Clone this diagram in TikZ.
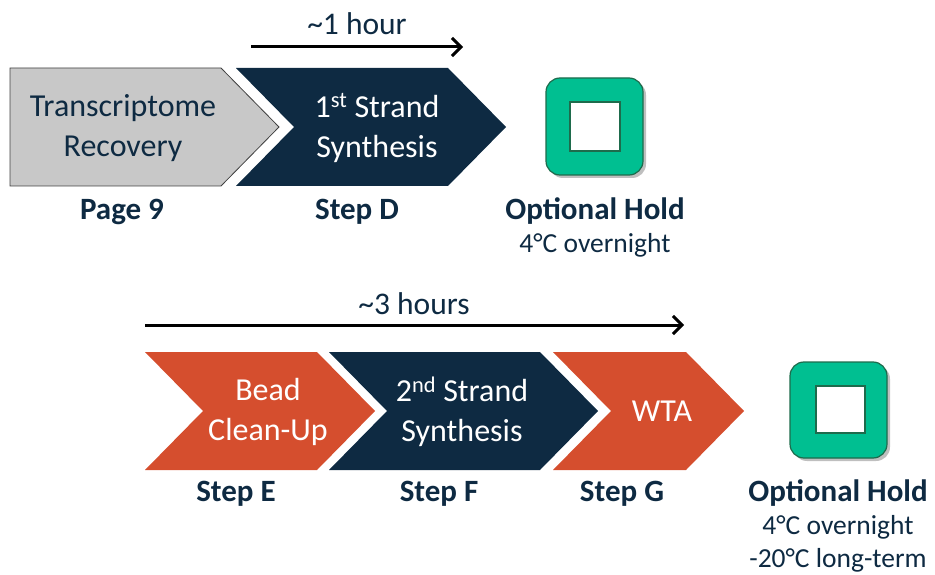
\documentclass[tikz,border=0pt]{standalone}
\usepackage{fontspec}
\setmainfont{Carlito}
\usetikzlibrary{arrows.meta}
\definecolor{navy}{HTML}{0E2A42}
\definecolor{rust}{HTML}{D54E2E}
\definecolor{greybox}{HTML}{C8C8C8}
\definecolor{greyline}{HTML}{404040}
\definecolor{holdgreen}{HTML}{00BF91}
\definecolor{holdline}{HTML}{1E6B4C}
\tikzset{
  x=1pt, y=-1pt,
  body/.style={font=\fontsize{32}{40}\selectfont, align=center, inner sep=0pt},
  lbl/.style={font=\fontsize{31}{36}\selectfont\bfseries, text=navy, inner sep=0pt},
  sub/.style={font=\fontsize{27.5}{33}\selectfont, text=navy, align=center, inner sep=0pt},
  timelbl/.style={font=\fontsize{31.5}{36}\selectfont, text=navy, inner sep=0pt},
  timearrow/.style={line width=3pt, -{Straight Barb[length=9pt,width=18pt,line width=3pt]}},
  holdouter/.style={fill=holdgreen, draw=holdline, line width=1.2pt, rounded corners=14pt},
  holdinner/.style={fill=white, draw=holdline, line width=2pt},
  holdshadow/.style={fill=black!25, rounded corners=14pt},
}
\begin{document}
\begin{tikzpicture}
\useasboundingbox (0,0) rectangle (935,575);
% ---- top row ----
\draw[fill=greybox, draw=greyline, line width=0.8pt] (10,68) -- (221,68) -- (279,127) -- (221,186) -- (10,186) -- cycle;
\fill[navy] (236,68) -- (448,68) -- (506,127) -- (448,186) -- (236,186) -- (294,127) -- cycle;
\node[body, text=navy] (recovery) at (123,128) {Transcriptome\\Recovery};
\node[body, text=white] (first) at (377,128) {1\textsuperscript{st} Strand\\Synthesis};
\node[lbl] (page9) at (122,212) {Page 9};
\node[lbl] (stepD) at (357,212) {Step D};
\coordinate (a1s) at (251,47);
\coordinate (a1e) at (463,47);
\draw[timearrow] (a1s) -- (a1e);
\node[timelbl] (hour1) at (357,24) {\textasciitilde 1 hour};
% hold 1
\fill[holdshadow] (549,81) rectangle (646,178);
\draw[holdouter] (546,78) rectangle (643,175);
\draw[holdinner] (570,102) rectangle (620,151);
\node[lbl] (hold1) at (595,211) {Optional Hold};
\node[sub] (hold1t) at (595,245) {4°C overnight};
% ---- bottom row ----
\fill[rust] (145,352) -- (317,352) -- (375,411) -- (317,470) -- (145,470) -- (203,411) -- cycle;
\fill[navy] (329,352) -- (540,352) -- (598,411) -- (540,470) -- (329,470) -- (387,411) -- cycle;
\fill[rust] (553,352) -- (686,352) -- (744,411) -- (686,470) -- (553,470) -- (611,411) -- cycle;
\node[body, text=white] (bead) at (268,412) {Bead\\Clean-Up};
\node[body, text=white] (second) at (462,412) {2\textsuperscript{nd} Strand\\Synthesis};
\node[body, text=white] (wta) at (662,411) {WTA};
\node[lbl] (stepE) at (236,494) {Step E};
\node[lbl] (stepF) at (439,494) {Step F};
\node[lbl] (stepG) at (622,494) {Step G};
\coordinate (a3s) at (145,325);
\coordinate (a3e) at (684,325);
\draw[timearrow] (a3s) -- (a3e);
\node[timelbl] (hour3) at (414,304) {\textasciitilde 3 hours};
% hold 2
\fill[holdshadow] (793,365) rectangle (890,461);
\draw[holdouter] (790,362) rectangle (887,458);
\draw[holdinner] (816,386) rectangle (865,433);
\node[lbl] (hold2) at (838,493) {Optional Hold};
\node[sub] (hold2t) at (838,544) {4°C overnight\\-20°C long-term};
\end{tikzpicture}
\end{document}
